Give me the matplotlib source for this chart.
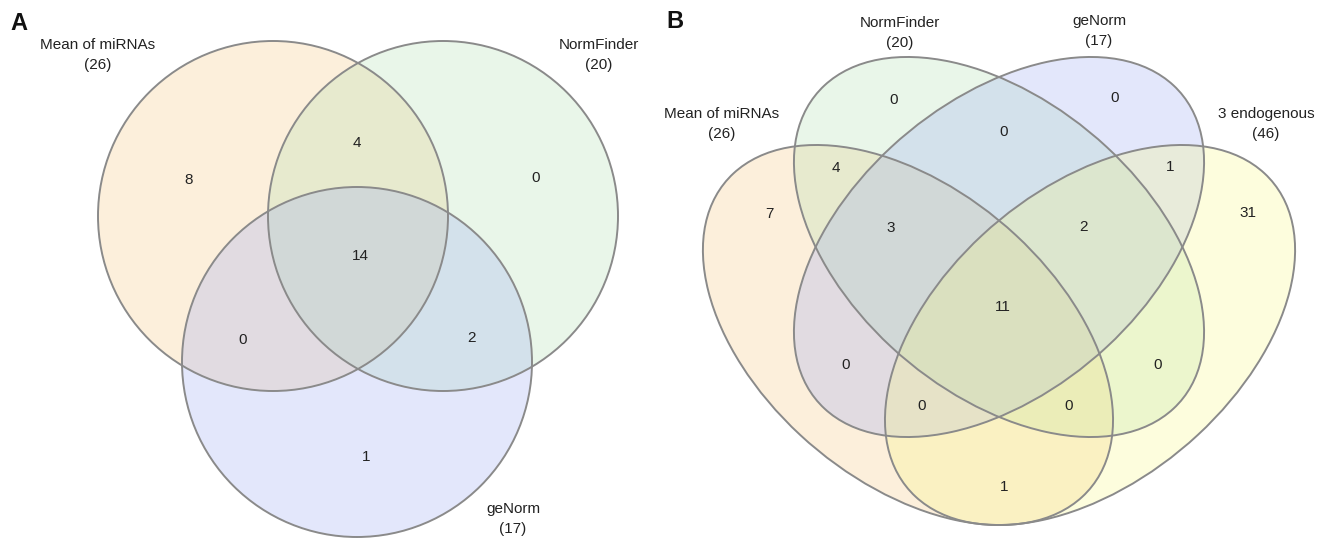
import matplotlib
matplotlib.use("Agg")
import matplotlib.pyplot as plt
from matplotlib.patches import Circle, Ellipse

plt.rcParams['font.family'] = ['Liberation Sans', 'DejaVu Sans']

# panel A : 3 sets
setsA = ['Mean of miRNAs', 'NormFinder', 'geNorm']
sizesA = [26, 20, 17]
# regions: M only, M&N, N only, all, M&G, N&G, G only
countsA = [8, 4, 0, 14, 0, 2, 1]

# panel B : 4 sets
setsB = ['Mean of miRNAs', 'NormFinder', 'geNorm', '3 endogenous']
sizesB = [26, 20, 17, 46]
# regions: N, G, N&G, M&N, G&E, M, E, M&N&G, N&G&E, all, M&G, N&E, M&G&E, M&N&E, M&E
countsB = [0, 0, 0, 4, 1, 7, 31, 3, 2, 11, 0, 0, 0, 0, 1]

fillsA = ['#f7c373', '#abdfab', '#93a3f3']
fillsB = ['#f7c373', '#abdfab', '#93a3f3', '#f8f87a']
edge = '#8a8a8a'
txt = '#222222'

W, H = 1331, 539
fig = plt.figure(figsize=(W / 100, H / 100), dpi=100)

# ---- panel B ellipses (quad venn, slightly stretched like the original figure)
kx, ky = 246.7, 228.6      # pixels per unit
cx0, cy0 = 999.0, 247.0    # centre of the two inner ellipses
axb = fig.add_axes([0, 0, 1, 1])
axb.set_xlim((0 - cx0) / kx, (W - cx0) / kx)
axb.set_ylim((cy0 - H) / ky, cy0 / ky)
axb.axis('off')

# order: Mean, NormFinder, geNorm, 3 endogenous
ellB = [(-0.369, -0.385, 135), (0.0, 0.0, 135), (0.0, 0.0, 45), (0.369, -0.385, 45)]
ea, eb = 2.0, 2.0 * 0.618
for (ex, ey, ang), c in zip(ellB, fillsB):
    axb.add_patch(Ellipse((ex, ey), ea, eb, angle=ang, facecolor=c, alpha=0.25,
                          edgecolor='none', zorder=1))
for (ex, ey, ang) in ellB:
    axb.add_patch(Ellipse((ex, ey), ea, eb, angle=ang, facecolor='none',
                          edgecolor=edge, lw=1.4, zorder=2))

# ---- panel A and all text, pixel coordinates
ax = fig.add_axes([0, 0, 1, 1])
ax.set_xlim(0, W)
ax.set_ylim(H, 0)
ax.axis('off')
ax.patch.set_alpha(0)

circA = [(273, 216), (443, 216), (357, 362)]
rA = 175
for (cx, cy), c in zip(circA, fillsA):
    ax.add_patch(Circle((cx, cy), rA, facecolor=c, alpha=0.25, edgecolor='none', zorder=1))
for (cx, cy) in circA:
    ax.add_patch(Circle((cx, cy), rA, facecolor='none', edgecolor=edge, lw=1.4, zorder=2))

posA = [(189, 180), (357, 143), (536, 178), (360, 256), (243, 340), (471, 338), (366, 457)]
for (x, y), n in zip(posA, countsA):
    ax.text(x, y, str(n), ha='center', va='center', fontsize=11, color=txt, zorder=3)

labA = [(98, 45), (599, 45), (513, 509)]
for (x, y), s, n in zip(labA, setsA, sizesA):
    ax.text(x, y, s, ha='center', va='center', fontsize=11, color=txt)
    ax.text(x, y + 20, '(%d)' % n, ha='center', va='center', fontsize=11, color=txt)

posB = [(894, 100), (1115, 98), (1004, 132), (836, 168), (1170, 167), (769, 214),
        (1248, 213), (891, 228), (1083, 227), (1003, 307), (846, 365), (1158, 365),
        (922, 406), (1069, 406), (1004, 487)]
for (x, y), n in zip(posB, countsB):
    ax.text(x, y, str(n), ha='center', va='center', fontsize=11, color=txt, zorder=3)

labB = [(722, 114), (900, 23), (1099, 21), (1266, 114)]
for (x, y), s, n in zip(labB, setsB, sizesB):
    ax.text(x, y, s, ha='center', va='center', fontsize=11, color=txt)
    ax.text(x, y + 20, '(%d)' % n, ha='center', va='center', fontsize=11, color=txt)

ax.text(19, 23, 'A', ha='center', va='center', fontsize=17, fontweight='bold', color='#111111')
ax.text(675, 22, 'B', ha='center', va='center', fontsize=17, fontweight='bold', color='#111111')

fig.savefig('out.png', dpi=100)
